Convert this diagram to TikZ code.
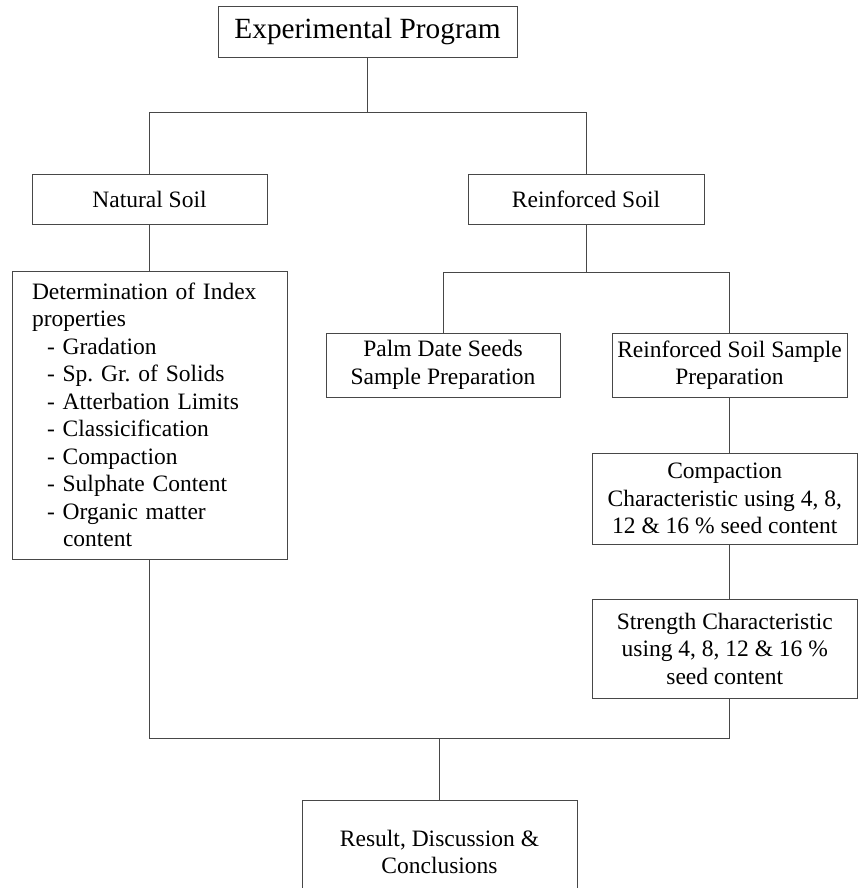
\documentclass[tikz,border=0pt]{standalone}
\usepackage{fontspec}
\setmainfont{Liberation Serif}
\frenchspacing
\begin{document}
\begin{tikzpicture}[x=1pt,y=-1pt,
  boxst/.style={draw=black!72, line width=0.9pt, rectangle, inner sep=0pt, align=center,
    font=\fontsize{23.5}{27.5}\selectfont},
  conn/.style={draw=black!72, line width=0.9pt}]
\clip (0,0) rectangle (858,888);
\useasboundingbox (0,0) rectangle (858,888);
\fill[white] (0,0) rectangle (858,888);

\node[boxst, minimum width=299pt, minimum height=51pt, font=\fontsize{29.3}{33}\selectfont] (top) at (367.5,31.5) {Experimental Program};
\node[boxst, minimum width=235pt, minimum height=50pt] (nat) at (149.5,199) {Natural Soil};
\node[boxst, minimum width=236pt, minimum height=50pt] (rein) at (586,199) {Reinforced Soil};
\node[boxst, minimum width=275pt, minimum height=288pt, text width=235pt, align=left] (idx) at (149.5,415)
  {\frenchspacing Determination of Index\\properties\\
   \hspace*{15pt}- Gradation\\
   \hspace*{15pt}- Sp. Gr. of Solids\\
   \hspace*{15pt}- Atterbation Limits\\
   \hspace*{15pt}- Classicification\\
   \hspace*{15pt}- Compaction\\
   \hspace*{15pt}- Sulphate Content\\
   \hspace*{15pt}- Organic matter\\
   \hspace*{31pt}content};
\node[boxst, minimum width=234pt, minimum height=64pt] (palm) at (443,365) {Palm Date Seeds\\Sample Preparation};
\node[boxst, minimum width=235pt, minimum height=64pt] (rsp) at (729.5,365) {Reinforced Soil Sample\\Preparation};
\node[boxst, minimum width=265.5pt, minimum height=91pt] (comp) at (724.75,498.5) {Compaction\\Characteristic using 4, 8,\\12 \& 16 \% seed content};
\node[boxst, minimum width=265.5pt, minimum height=99pt] (str) at (724.75,648.5) {Strength Characteristic\\using 4, 8, 12 \& 16 \%\\seed content};
\node[boxst, minimum width=275pt, minimum height=104pt] (res) at (439.5,852) {Result, Discussion \&\\Conclusions};

\coordinate (busA) at (0,112);
\coordinate (busB) at (0,272);
\coordinate (busC) at (0,738);

\draw[conn] (top.south) -- (top.south |- busA);
\draw[conn] (nat.north) -- (nat.north |- busA) -- (rein.north |- busA) -- (rein.north);
\draw[conn] (nat.south) -- (idx.north);
\draw[conn] (rein.south) -- (rein.south |- busB);
\draw[conn] (palm.north) -- (palm.north |- busB) -- (rsp.north |- busB) -- (rsp.north);
\draw[conn] (rsp.south) -- (rsp.south |- comp.north);
\draw[conn] (rsp.south |- comp.south) -- (rsp.south |- str.north);
\draw[conn] (idx.south) -- (idx.south |- busC) -- (rsp.south |- busC) -- (rsp.south |- str.south);
\draw[conn] (res.north) -- (res.north |- busC);
\end{tikzpicture}
\end{document}
